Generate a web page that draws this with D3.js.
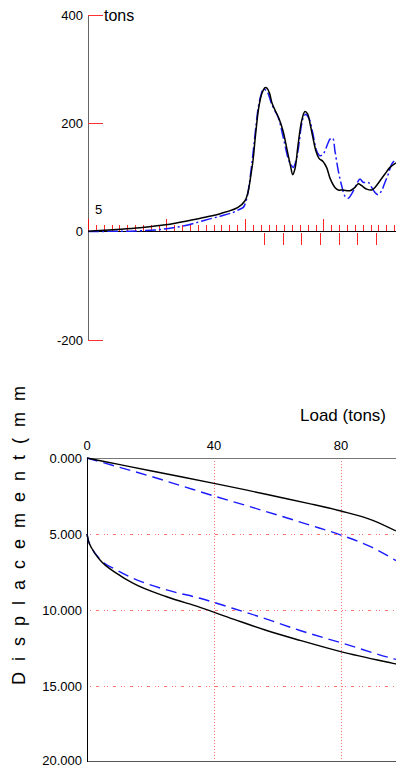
<!DOCTYPE html>
<html>
<head>
<meta charset="utf-8">
<script src="https://cdn.jsdelivr.net/npm/d3@7"></script>
<style>
  body { margin: 0; background: #fff; }
  svg { display: block; font-family: Arial, "Liberation Sans", sans-serif; }
</style>
</head>
<body>
<svg id="chart" width="396" height="768"></svg>
<script>
// ---- top chart: force / velocity trace (time in ticks, tons)
var forceT = [0, 1.53, 4.2, 6.62, 8.54, 10.45, 12.74, 14.9, 16.94, 19.11, 20.0, 20.38, 20.76, 21.02, 21.27, 21.66, 21.91, 22.17, 22.55, 22.8, 23.12, 23.44, 23.82, 24.33, 24.84, 25.35, 25.8, 26.08, 26.37, 26.75, 27.22, 27.64, 27.99, 28.28, 28.66, 29.04, 29.43, 29.94, 30.41, 30.83, 31.46, 31.89, 32.48, 33.38, 34.01, 34.43, 34.87, 35.5, 36.14, 36.56, 37.2, 37.83, 38.47, 39.24];
var forceV = [0.9, 2.2, 4.6, 7.4, 10.5, 13.8, 20.3, 26.7, 33.7, 44.8, 57.1, 72.4, 105.1, 130.9, 167.8, 219.8, 241.4, 255.9, 265.7, 265.0, 255.9, 237.5, 224.6, 208.7, 186.3, 152.0, 121.6, 105.1, 116.1, 158.5, 204.6, 221.7, 216.9, 200.2, 173.2, 149.1, 135.3, 129.7, 118.3, 98.9, 81.7, 76.9, 76.9, 75.6, 81.7, 88.4, 84.8, 78.6, 76.9, 81.7, 94.0, 106.4, 118.7, 127.2];
var velT = [0, 2.8, 5.35, 8.54, 10.45, 12.74, 14.9, 16.94, 18.47, 19.11, 19.78, 20.0, 20.25, 20.42, 20.64, 21.06, 21.4, 21.69, 22.04, 22.33, 22.76, 23.06, 23.4, 23.82, 24.24, 24.88, 25.52, 25.86, 26.15, 26.5, 26.79, 27.22, 27.52, 27.77, 28.03, 28.28, 28.66, 29.13, 29.55, 29.97, 30.19, 30.61, 30.83, 31.17, 31.46, 31.89, 32.32, 32.74, 33.16, 33.59, 34.23, 34.65, 35.07, 35.71, 36.14, 36.56, 36.98, 37.41, 37.83, 38.26, 38.69, 39.24];
var velV = [0.4, 0.6, 0.9, 3.1, 6.4, 12.3, 21.2, 28.9, 35.5, 39.9, 44.8, 50.7, 62.7, 75.6, 97.7, 149.3, 195.4, 229.1, 252.4, 262.9, 260.0, 250.7, 235.4, 223.0, 210.7, 173.8, 134.0, 123.5, 118.6, 130.8, 152.4, 198.5, 213.8, 216.9, 212.0, 204.6, 180.6, 149.3, 140.1, 143.2, 149.3, 164.6, 170.9, 172.7, 149.3, 112.2, 84.8, 65.5, 61.8, 69.6, 88.0, 97.2, 91.0, 91.0, 81.7, 72.5, 68.3, 75.6, 90.9, 106.4, 124.8, 134.6];
var tonTicks = [400, 200, 0, -200];
var markT = [22.42, 24.8, 27.17, 29.55, 31.93, 34.3, 36.68];

// ---- bottom chart: load vs displacement
var loadUpX = [0, 10, 20, 30, 40, 50, 60, 70, 80, 90, 97.3];
var blackUpY = [0, 0.42, 0.84, 1.25, 1.67, 2.1, 2.55, 3.0, 3.49, 4.1, 4.8];
var blueUpY = [0, 0.6, 1.2, 1.85, 2.5, 3.12, 3.75, 4.4, 5.07, 5.9, 6.75];
var loadDnX = [0, 0.4, 1.5, 4.1, 9.35, 14.6, 25.1, 35.6, 46.1, 56.6, 67.1, 79.9, 96.4, 97.3];
var blackDnY = [5.0, 5.4, 5.94, 6.71, 7.59, 8.25, 9.13, 9.83, 10.6, 11.35, 12.0, 12.74, 13.51, 13.55];
var blueDnY = [5.0, 5.4, 5.92, 6.67, 7.37, 7.92, 8.68, 9.23, 9.9, 10.6, 11.35, 12.15, 13.2, 13.25];
var loadTicks = [0, 40, 80];
var dispTicks = [0, 5, 10, 15, 20];

var svg = d3.select("#chart");

// ================= top chart =================
var x1 = d3.scaleLinear().domain([0, 39.24]).range([88, 396]);
var y1 = d3.scaleLinear().domain([-200, 400]).range([340, 15]);

svg.append("line").attr("x1", 88.5).attr("x2", 88.5)
    .attr("y1", y1(400)).attr("y2", y1(-200))
    .attr("stroke", "#666").attr("stroke-width", 1);

var tg = svg.append("g");
tg.selectAll("line").data(tonTicks.filter(function (d) { return d !== 0; })).enter().append("line")
    .attr("x1", 88).attr("x2", 103)
    .attr("y1", function (d) { return Math.round(y1(d)) + 0.5; })
    .attr("y2", function (d) { return Math.round(y1(d)) + 0.5; })
    .attr("stroke", "#ff3030");
tg.selectAll("text").data(tonTicks).enter().append("text")
    .attr("x", 83).attr("y", function (d) { return y1(d); })
    .attr("dy", "0.35em").attr("text-anchor", "end")
    .attr("font-size", 13).text(function (d) { return d; });

svg.append("text").attr("x", 104).attr("y", 21)
    .attr("font-size", 16).text("tons");

// time ticks along zero line
var timeTicks = d3.range(0, 40);
svg.append("g").selectAll("line").data(timeTicks).enter().append("line")
    .attr("x1", function (d) { return Math.round(x1(d)) + 0.5; })
    .attr("x2", function (d) { return Math.round(x1(d)) + 0.5; })
    .attr("y1", function (d) { return d % 10 === 0 ? 219 : 225; })
    .attr("y2", 231)
    .attr("stroke", "#ff0000").attr("stroke-opacity", 0.85).attr("stroke-width", 1);
svg.append("g").selectAll("line").data(markT).enter().append("line")
    .attr("x1", function (d) { return Math.round(x1(d)) + 0.5; })
    .attr("x2", function (d) { return Math.round(x1(d)) + 0.5; })
    .attr("y1", 233).attr("y2", 245)
    .attr("stroke", "#ff0000").attr("stroke-opacity", 0.85).attr("stroke-width", 1);

svg.append("line").attr("x1", 88).attr("x2", 396)
    .attr("y1", 231.5).attr("y2", 231.5)
    .attr("stroke", "#000").attr("stroke-width", 1.2);

svg.append("text").attr("x", 95).attr("y", 214).attr("font-size", 13).text("5");

var line1 = d3.line().curve(d3.curveCatmullRom.alpha(0.5))
    .x(function (d) { return x1(d[0]); }).y(function (d) { return y1(d[1]); });

svg.append("path").datum(d3.zip(velT, velV)).attr("d", line1)
    .attr("fill", "none").attr("stroke", "#1a1aff").attr("stroke-width", 1.5)
    .attr("stroke-dasharray", "11,3,2,3");
svg.append("path").datum(d3.zip(forceT, forceV)).attr("d", line1)
    .attr("fill", "none").attr("stroke", "#000").attr("stroke-width", 1.5);

// ================= bottom chart =================
var x2 = d3.scaleLinear().domain([0, 97.32]).range([87, 396]);
var y2 = d3.scaleLinear().domain([0, 20]).range([458, 762]);

// grid
svg.append("g").selectAll("line").data(dispTicks.filter(function (d) { return d > 0 && d < 20; }))
    .enter().append("line")
    .attr("x1", 87).attr("x2", 396)
    .attr("y1", function (d) { return y2(d) + 0.5; })
    .attr("y2", function (d) { return y2(d) + 0.5; })
    .attr("stroke", "#ff5050").attr("stroke-opacity", 0.8).attr("stroke-width", 1)
    .attr("stroke-dasharray", "1,2,1,5,3,5");
svg.append("g").selectAll("line").data(loadTicks.filter(function (d) { return d > 0; }))
    .enter().append("line")
    .attr("x1", function (d) { return Math.round(x2(d)) + 0.5; })
    .attr("x2", function (d) { return Math.round(x2(d)) + 0.5; })
    .attr("y1", 458).attr("y2", 762)
    .attr("stroke", "#ff5050").attr("stroke-opacity", 0.8).attr("stroke-width", 1)
    .attr("stroke-dasharray", "1,2");

// frame
svg.append("line").attr("x1", 87).attr("x2", 396).attr("y1", 458.5).attr("y2", 458.5)
    .attr("stroke", "#777");
svg.append("line").attr("x1", 87).attr("x2", 396).attr("y1", 761.5).attr("y2", 761.5)
    .attr("stroke", "#555");
svg.append("line").attr("x1", 87.5).attr("x2", 87.5).attr("y1", 458).attr("y2", 762)
    .attr("stroke", "#000");

svg.append("g").selectAll("text").data(loadTicks).enter().append("text")
    .attr("x", function (d) { return x2(d); }).attr("y", 450)
    .attr("text-anchor", "middle").attr("font-size", 13)
    .text(function (d) { return d; });
svg.append("g").selectAll("text").data(dispTicks).enter().append("text")
    .attr("x", 82).attr("y", function (d) { return d === 20 ? y2(d) - 2 : y2(d); })
    .attr("dy", "0.35em").attr("text-anchor", "end").attr("font-size", 13)
    .text(function (d) { return d3.format(".3f")(d); });

svg.append("text").attr("x", 386).attr("y", 421).attr("text-anchor", "end")
    .attr("font-size", 17).text("Load (tons)");

svg.append("text").attr("transform", "translate(25,685) rotate(-90)")
    .attr("font-size", 18).attr("letter-spacing", 11)
    .text("Displacement(mm");

var line2 = d3.line().curve(d3.curveMonotoneX)
    .x(function (d) { return x2(d[0]); }).y(function (d) { return y2(d[1]); });

svg.append("path").datum(d3.zip(loadUpX, blueUpY)).attr("d", line2)
    .attr("fill", "none").attr("stroke", "#1a1aff").attr("stroke-width", 1.4)
    .attr("stroke-dasharray", "11,6");
svg.append("path").datum(d3.zip(loadDnX, blueDnY)).attr("d", line2)
    .attr("fill", "none").attr("stroke", "#1a1aff").attr("stroke-width", 1.4)
    .attr("stroke-dasharray", "11,6");
svg.append("path").datum(d3.zip(loadUpX, blackUpY)).attr("d", line2)
    .attr("fill", "none").attr("stroke", "#000").attr("stroke-width", 1.4);
svg.append("path").datum(d3.zip(loadDnX, blackDnY)).attr("d", line2)
    .attr("fill", "none").attr("stroke", "#000").attr("stroke-width", 1.4);
</script>
</body>
</html>
